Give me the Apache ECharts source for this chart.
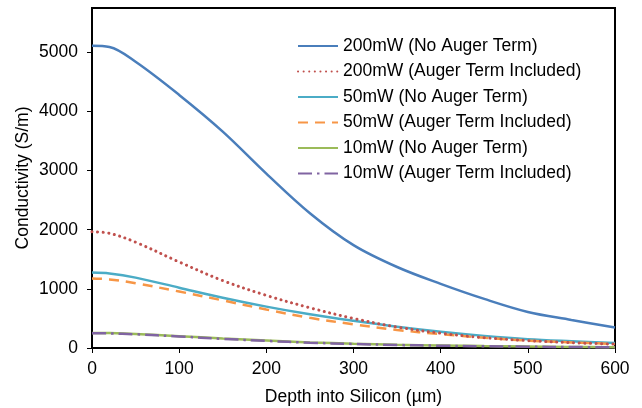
<!DOCTYPE html>
<html>
<head>
<meta charset="utf-8">
<script src="https://cdn.jsdelivr.net/npm/echarts@6/dist/echarts.min.js"></script>
<style>
  html, body { margin: 0; padding: 0; background: #fff; }
  #chart { width: 642px; height: 408px; }
</style>
</head>
<body>
<div id="chart"></div>
<script>
// depth into silicon (um)
var depth = [0, 20, 50, 100, 150, 200, 250, 300, 350, 400, 450, 500, 550, 600];

// conductivity (S/m)
var p200NoAuger = [5110, 5090, 4840, 4280, 3660, 2950, 2280, 1740, 1370, 1085, 830, 610, 475, 345];
var p200Auger   = [1965, 1940, 1790, 1455, 1140, 890, 680, 500, 355, 250, 175, 125, 90, 65];
var p50NoAuger  = [1275, 1260, 1190, 1020, 850, 700, 570, 460, 360, 275, 205, 150, 115, 85];
var p50Auger    = [1175, 1160, 1095, 955, 805, 650, 510, 400, 305, 235, 175, 125, 95, 68];
var p10NoAuger  = [255, 252, 238, 200, 160, 125, 95, 72, 55, 42, 32, 24, 18, 14];
var p10Auger    = [250, 247, 232, 195, 155, 120, 90, 68, 51, 39, 29, 22, 16, 12];

var seriesNames = [
  '200mW (No Auger Term)',
  '200mW (Auger Term Included)',
  '50mW (No Auger Term)',
  '50mW (Auger Term Included)',
  '10mW (No Auger Term)',
  '10mW (Auger Term Included)'
];

function pairs(vals) {
  var out = [];
  for (var i = 0; i < depth.length; i++) {
    out.push([depth[i], vals[i]]);
  }
  return out;
}

function line(name, vals, color, type, cap, width) {
  return {
    name: name,
    type: 'line',
    data: pairs(vals),
    smooth: 0.35,
    symbol: 'none',
    lineStyle: { color: color, width: width || 2.5, type: type, cap: cap || 'butt' },
    itemStyle: { color: color }
  };
}

var chart = echarts.init(document.getElementById('chart'));
var font = 'Liberation Sans, Arial, sans-serif';
var fs = 17.5;

chart.setOption({
  animation: false,
  textStyle: { fontFamily: font },
  grid: {
    left: 92, right: 27, top: 8, bottom: 60,
    outerBoundsMode: 'none',
    show: true, borderColor: '#000', borderWidth: 2
  },
  legend: {
    orient: 'vertical',
    left: 292, top: 32,
    itemWidth: 40, itemHeight: 14, itemGap: 7.5,
    itemStyle: { opacity: 0 },
    textStyle: { fontSize: fs, color: '#000', fontFamily: font },
    data: seriesNames
  },
  xAxis: {
    type: 'value',
    min: 0, max: 600, interval: 100,
    name: 'Depth into Silicon (\u00b5m)',
    nameLocation: 'middle', nameGap: 40, nameMoveOverlap: false,
    nameTextStyle: { fontSize: fs, color: '#000' },
    axisLine: { lineStyle: { color: '#000', width: 2 } },
    axisTick: { show: true, length: 5, lineStyle: { color: '#000' } },
    axisLabel: { fontSize: fs, color: '#000', margin: 12 },
    splitLine: { show: false }
  },
  yAxis: {
    type: 'value',
    min: 0, max: 5750, interval: 1000,
    name: 'Conductivity (S/m)',
    nameLocation: 'middle', nameGap: 60, nameMoveOverlap: false,
    nameTextStyle: { fontSize: fs, color: '#000' },
    axisLine: { show: true, lineStyle: { color: '#000', width: 2 } },
    axisTick: { show: true, length: 5, lineStyle: { color: '#000' } },
    axisLabel: {
      fontSize: fs, color: '#000', margin: 14, showMaxLabel: false,
      formatter: function (v) { return String(v); }
    },
    splitLine: { show: false }
  },
  series: [
    line(seriesNames[4], p10NoAuger, '#9BBB59', 'solid'),
    line(seriesNames[5], p10Auger, '#8064A2', [14, 5, 2.5, 5]),
    line(seriesNames[2], p50NoAuger, '#4BACC6', 'solid'),
    line(seriesNames[3], p50Auger, '#F79646', [10, 7]),
    line(seriesNames[1], p200Auger, '#C0504D', [0.1, 5.5], 'round', 3),
    line(seriesNames[0], p200NoAuger, '#4A7EBB', 'solid')
  ]
});
</script>
</body>
</html>
